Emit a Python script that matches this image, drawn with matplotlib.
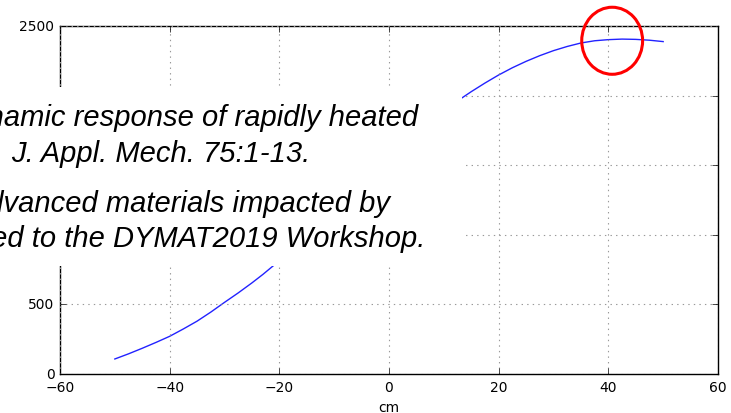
import numpy as np
import matplotlib
matplotlib.use("Agg")
import matplotlib.pyplot as plt
from matplotlib.patches import Ellipse, Rectangle

# curve (middle part hidden under the text box)
x_cm = [-50, -47.5, -45, -42.5, -40, -37.5, -35, -32.5, -30, -27.5, -25, -23,
        -21.2, -15, -10, -5, 0, 5, 10,
        13.3, 15, 17.5, 20, 22.5, 25, 27.5, 30, 32.5, 35, 37.5, 40,
        42.5, 45, 47.5, 50]
y_val = [108, 145, 185, 227, 271, 324, 380, 445, 515, 583, 655, 716,
         775, 983, 1168, 1363, 1558, 1743, 1908,
         1985, 2030, 2092, 2150, 2202, 2248, 2289, 2325, 2355, 2380, 2396, 2404,
         2408, 2406, 2400, 2390]

xticks = [-60, -40, -20, 0, 20, 40, 60]
yticks = [0, 500, 1000, 1500, 2000, 2500]

ref_lines = ["Dynamic response of rapidly heated",
             "J. Appl. Mech. 75:1-13.",
             "advanced materials impacted by",
             "submitted to the DYMAT2019 Workshop."]

plt.style.use("classic")
plt.rcParams["figure.facecolor"] = "white"
plt.rcParams["savefig.facecolor"] = "white"

fig = plt.figure(figsize=(7.31, 4.14), dpi=100)
ax = fig.add_axes([60/731, 1-375/414, 658/731, 347.7/414])

ax.plot(x_cm, y_val, color="#2222ff", lw=1)
ax.set_xlim(-60, 60)
ax.set_ylim(0, 2500)
ax.set_xticks(xticks)
ax.set_yticks(yticks)
ax.tick_params(labelsize=10)
ax.set_xlabel("cm", fontsize=10)
ax.grid(True, color="#999999", linestyle=":", linewidth=0.8)

# red highlight around the peak
ax.add_patch(Ellipse((40.7, 2396), 11.1, 482, fill=False, edgecolor="red",
                     lw=2.2, clip_on=False, zorder=5))

# white box with the reference text on top of the plot
fig.add_artist(Rectangle((-0.02, 1-267/414), 0.02+462/731, 179/414,
                         transform=fig.transFigure, facecolor="white",
                         edgecolor="none", zorder=2))
ends_px = [418, 310, 390, 425]
base_px = [126, 161.7, 211.7, 246.7]
for txt, xe, yb in zip(ref_lines, ends_px, base_px):
    fig.text(xe/731, 1-yb/414, txt, ha="right", va="baseline",
             family="Liberation Sans", style="italic", fontsize=21,
             color="black", zorder=3)

fig.savefig("out.png", dpi=100)
